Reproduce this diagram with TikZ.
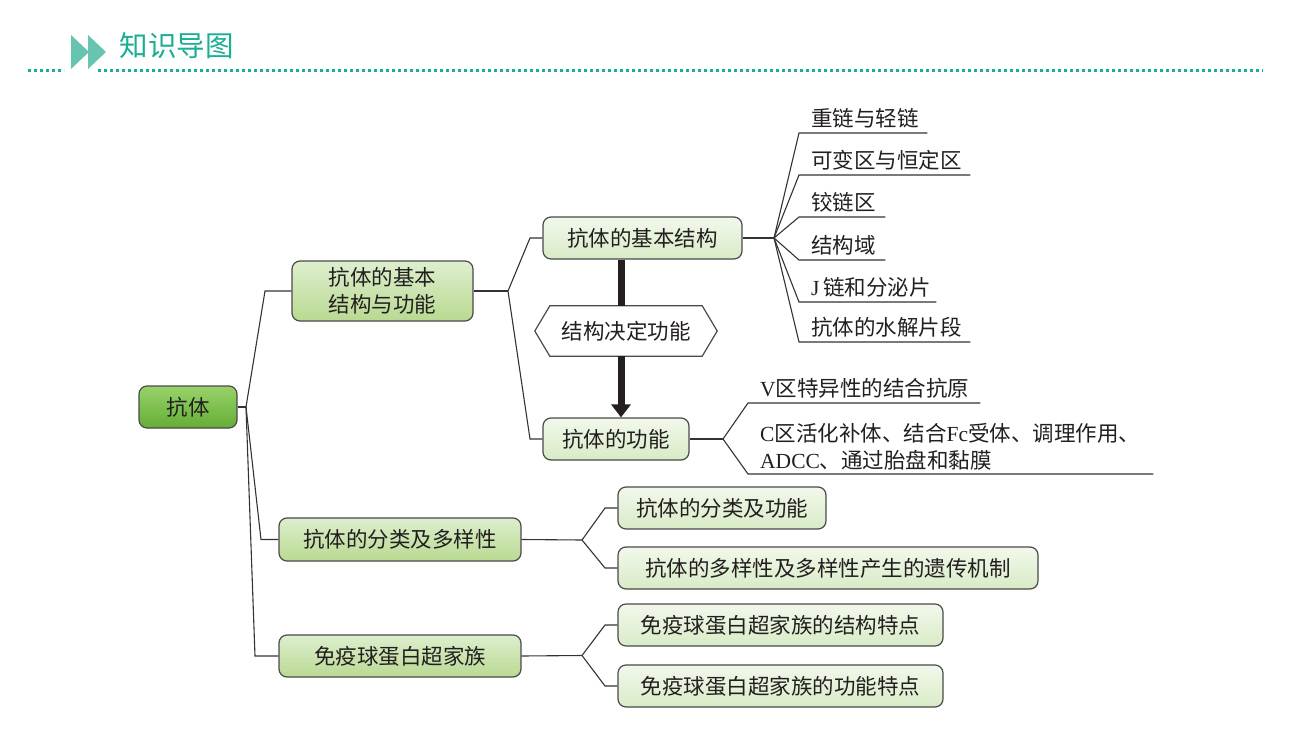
\documentclass[tikz,border=0pt]{standalone}
\usepackage{fontspec}
\setmainfont{Liberation Serif}
\newfontfamily\cjk{Noto Sans CJK SC}
\newfontfamily\lat{Liberation Serif}
\usetikzlibrary{arrows.meta}
\definecolor{txt}{HTML}{231F20}
\definecolor{teal}{HTML}{1AAE94}
\definecolor{tri}{HTML}{66C4B1}
\definecolor{edge}{HTML}{4A4A4A}
\definecolor{wire}{HTML}{333333}
\definecolor{rootT}{HTML}{98D26A}
\definecolor{rootB}{HTML}{64AE36}
\definecolor{lvA}{HTML}{DDEFCE}
\definecolor{lvB}{HTML}{B9D991}
\definecolor{lfA}{HTML}{F2F8EC}
\definecolor{lfB}{HTML}{D8EBC6}
\tikzset{
  every node/.style={font=\cjk\fontsize{21.5}{27}\selectfont, text=txt, inner sep=0pt},
  box/.style={draw=edge, line width=1.2pt, rounded corners=8pt, minimum height=42pt},
  rootbox/.style={box, top color=rootT, bottom color=rootB},
  lvbox/.style={box, top color=lvA, bottom color=lvB},
  lfbox/.style={box, top color=lfA, bottom color=lfB},
  wirestyle/.style={draw=wire, line width=1.1pt},
  itembase/.style={anchor=south west, inner xsep=12pt, inner ysep=0pt, align=left},
  item/.style={itembase, text depth=6.5pt},
}
\begin{document}
\begin{tikzpicture}[x=1pt,y=-1pt]
\useasboundingbox (0,0) rectangle (1297,746);
% header
\fill[tri] (71,35) -- (71,69) -- (89,52) -- cycle;
\fill[tri] (88,35) -- (88,69) -- (106,52) -- cycle;
\node[font=\cjk\fontsize{28.5}{30}\selectfont, text=teal] (title) at (176.5,46) {知识导图};
\draw[teal, line width=3pt, dash pattern=on 3pt off 3pt] (28,71) -- (64,71);
\draw[teal, line width=3pt, dash pattern=on 3pt off 3pt] (98,71) -- (1263,71);

% main nodes
\node[rootbox, minimum width=98pt] (root) at (188,407) {抗体};
\node[lvbox, minimum width=181pt, minimum height=60pt, align=center] (b1) at (382.5,291) {抗体的基本\\结构与功能};
\node[lvbox, minimum width=242pt, minimum height=43pt] (b2) at (400,539.5) {抗体的分类及多样性};
\node[lvbox, minimum width=242pt] (b3) at (400,656) {免疫球蛋白超家族};

\node[lfbox, minimum width=199pt] (b11) at (642.5,238) {抗体的基本结构};
\node[lfbox, minimum width=146pt] (b12) at (616,439) {抗体的功能};
\node[minimum width=182pt, minimum height=50pt] (hex) at (626,331) {结构决定功能};
\draw[edge, line width=1.2pt, fill=white] (hex.west) -- ([xshift=15pt]hex.north west) -- ([xshift=-15pt]hex.north east) -- (hex.east) -- ([xshift=-15pt]hex.south east) -- ([xshift=15pt]hex.south west) -- cycle;
\node at (hex.center) {结构决定功能};

\node[lfbox, minimum width=208pt] (l1) at (722,508) {抗体的分类及功能};
\node[lfbox, minimum width=420pt] (l2) at (828,568) {抗体的多样性及多样性产生的遗传机制};
\node[lfbox, minimum width=325pt] (l3) at (780.5,625) {免疫球蛋白超家族的结构特点};
\node[lfbox, minimum width=325pt] (l4) at (780.5,686) {免疫球蛋白超家族的功能特点};

% structure items
\node[item, text width=104pt] (s1) at (799,133) {重链与轻链};
\node[item, text width=147pt] (s2) at (799,175) {可变区与恒定区};
\node[item, text width=62pt] (s3) at (799,217) {铰链区};
\node[item, text width=62pt] (s4) at (799,260) {结构域};
\node[item, text width=113pt] (s5) at (799,302) {{\lat J}\,链和分泌片};
\node[item, text width=147pt] (s6) at (799,342) {抗体的水解片段};

% function items
\node[item, text width=208pt] (f1) at (748,403) {{\lat V}区特异性的结合抗原};
\node[itembase, text width=381pt] (f2) at (748,474) {{\lat C}区活化补体、结合{\lat Fc}受体、调理作用、\\{\lat ADCC}、通过胎盘和黏膜\rule[-5pt]{0pt}{5pt}};

% junction coordinates
\coordinate (j0) at (246,407);
\coordinate (j1) at (508,291);
\coordinate (j2) at (774,238);
\coordinate (j3) at (723,439);
\coordinate (j4) at (582,540);
\coordinate (j5) at (582,655.5);
\coordinate (ax) at (621,0);

% connectors
\draw[wirestyle] (root.east) -- (j0);
\draw[wirestyle] (j0) -- (265,291) -- (b1.west);
\draw[wirestyle] (j0) -- (261,539.5) -- (b2.west);
\draw[wirestyle] (j0) -- (255,656) -- (b3.west);

\draw[wirestyle] (b1.east) -- (j1);
\draw[wirestyle] (j1) -- (530,238) -- (b11.west);
\draw[wirestyle] (j1) -- (530,439) -- (b12.west);

\draw[wirestyle] (b11.east) -- (j2);
\foreach \s in {s1,s2,s3,s4,s5,s6}
  \draw[wirestyle] (j2) -- (\s.south west) -- (\s.south east);

\draw[wirestyle] (b12.east) -- (j3);
\draw[wirestyle] (j3) -- (f1.south west) -- (f1.south east);
\draw[wirestyle] (j3) -- (f2.south west) -- (f2.south east);

\draw[wirestyle] (b2.east) -- (j4);
\draw[wirestyle] (j4) -- (605,508) -- (l1.west);
\draw[wirestyle] (j4) -- (605,568) -- (l2.west);
\draw[wirestyle] (b3.east) -- (j5);
\draw[wirestyle] (j5) -- (605,625) -- (l3.west);
\draw[wirestyle] (j5) -- (605,686) -- (l4.west);

% thick arrows
\draw[txt, line width=7pt] (b11.south -| ax) -- (hex.north -| ax);
\draw[txt, line width=7pt, -{Triangle[width=19pt,length=13pt]}] (hex.south -| ax) -- (b12.north -| ax);
\end{tikzpicture}
\end{document}
